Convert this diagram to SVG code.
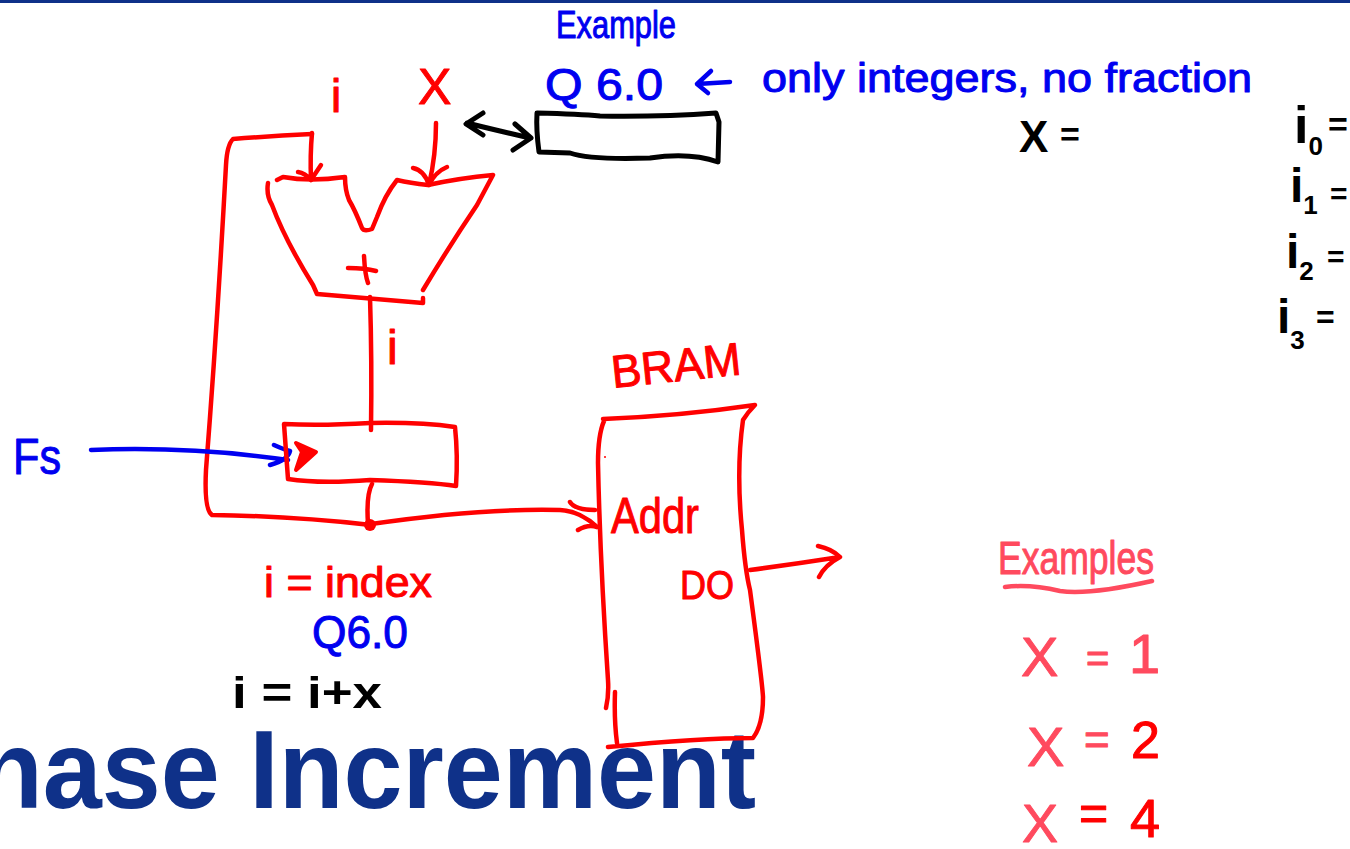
<svg xmlns="http://www.w3.org/2000/svg" width="1350" height="849" viewBox="0 0 1350 849">
<style>
.r{fill:none;stroke:#ff0000;stroke-width:4.5;stroke-linecap:round;stroke-linejoin:round}
.b{fill:none;stroke:#0000f0;stroke-width:4.5;stroke-linecap:round;stroke-linejoin:round}
.k{fill:none;stroke:#000;stroke-width:5;stroke-linecap:round;stroke-linejoin:round}
.p{fill:none;stroke:#ff4a5e;stroke-width:4.5;stroke-linecap:round;stroke-linejoin:round}
text{font-family:"Liberation Sans",Arial,sans-serif;stroke-linejoin:round}
.tr{fill:#ff0000;stroke:#ff0000;stroke-width:1}
.tb{fill:#0000f0;stroke:#0000f0;stroke-width:1}
.tk{fill:#000;font-weight:bold}
.tp{fill:#ff4a5e;stroke:#ff4a5e;stroke-width:1}
.red{fill:#ff0000;stroke:#ff0000}
</style>
<rect x="0" y="0" width="1350" height="3" fill="#0f3189"/>
<g id="title"><text x="-22" y="808" font-size="112" font-weight="bold" fill="#0f3189" textLength="778" lengthAdjust="spacingAndGlyphs">hase Increment</text></g>
<g id="connectors">
<path class="r" d="M312 133Q310 155 311 180M298 172Q305 173 311 180L321 165"/>
<path class="r" d="M436 123Q436 155 429 185M413 168Q424 170 429 185Q435 172 447 167"/>
<path class="r" d="M312 134Q270 136 233 139Q227 145 226 165Q217 330 206 470Q204 510 212 515Q290 516 371 525"/>
<path class="r" d="M370 297Q372 360 371 430"/>
<path class="r" d="M372 484Q366 495 368 524"/>
<circle cx="370" cy="525" r="6" fill="#ff0000"/>
<path class="r" d="M371 524Q480 508 560 510Q580 511 597 527M570 502Q575 510 595 510M578 530Q588 524 597 527"/>
<path class="r" d="M750 570Q795 564 840 557M818 546Q832 549 840 557Q825 565 819 577"/>
<path class="b" d="M91 450Q190 446 288 460M274 445Q285 450 290 451Q288 460 270 465"/>
<path class="k" d="M467 123Q495 130 530 138M483 113L466 124L483 135M515 124L531 138L513 150"/>
<path class="b" d="M697 84L730 82M711 71L697 84L708 93"/>
<path class="p" d="M1005 587Q1030 584 1060 591Q1090 595 1152 581"/>
</g>
<g id="adder">
<path class="r" d="M268 183Q266 195 272 205Q285 240 313 285L317 294L423 303L423 298M423 290Q450 245 477 205L493 175Q460 178 428 185Q410 183 397 180Q385 195 377 217L372 229Q364 232 362 228Q355 210 349 200Q345 190 345 177Q310 182 283 177L277 180"/>
<path class="r" d="M348 268Q365 268 376 271M364 256Q365 275 368 283"/>
</g>
<g id="register">
<path class="r" d="M284 424Q320 426 370 423Q420 422 455 427Q458 455 456 486Q430 482 370 480Q320 484 288 479Q286 450 284 424Z"/>
<path d="M296 443L316 452L296 470L302 452Z" fill="#ff0000" stroke="#ff0000" stroke-width="4" stroke-linejoin="round"/>
</g>
<g id="bram">
<path class="r" d="M603 419Q680 416 755 405Q748 412 743 420Q736 470 742 530Q745 570 750 590Q762 680 763 697Q763 725 753 738Q700 738 608 747M617 743Q614 720 615 692M606 708Q609 695 608 680Q600 560 598 463Q598 435 604 421"/>
<circle cx="605" cy="457" r="1" fill="#ff0000"/>
</g>
<g id="q-register">
<path class="k" d="M537 113Q580 114 600 116Q660 117 716 113L719 122L718 162Q690 152 650 158Q590 160 570 153L539 152Q536 130 537 113Z"/>
</g>
<g id="labels">
<text class="tr" x="331" y="112" font-size="46">i</text>
<text class="tr" x="418" y="104" font-size="50">X</text>
<text class="tr" x="387" y="364" font-size="48">i</text>
<text class="tb" x="556" y="38" font-size="38" textLength="120" lengthAdjust="spacingAndGlyphs">Example</text>
<text class="tb" x="545" y="100" font-size="44" textLength="118" lengthAdjust="spacingAndGlyphs">Q 6.0</text>
<text class="tb" x="762" y="92" font-size="40" textLength="490" lengthAdjust="spacingAndGlyphs">only integers, no fraction</text>
<text class="tk" x="1019" y="152" font-size="44">X<tspan x="1060" y="146" font-size="34">=</tspan></text>
<text class="tk" x="1294" y="143" font-size="52">i<tspan font-size="26" y="155">0</tspan><tspan x="1328" y="136" font-size="34">=</tspan></text>
<text class="tk" x="1290" y="202" font-size="48">i<tspan font-size="26" y="214">1</tspan><tspan x="1330" y="204" font-size="30">=</tspan></text>
<text class="tk" x="1286" y="268" font-size="48">i<tspan font-size="26" y="280">2</tspan><tspan x="1327" y="267" font-size="30">=</tspan></text>
<text class="tk" x="1277" y="333" font-size="48">i<tspan font-size="26" y="349">3</tspan><tspan x="1316" y="328" font-size="32">=</tspan></text>
<text class="tb" x="13" y="474" font-size="50" textLength="48" lengthAdjust="spacingAndGlyphs">Fs</text>
<text class="tr" x="613" y="388" font-size="46" textLength="130" lengthAdjust="spacingAndGlyphs" transform="rotate(-6 613 388)">BRAM</text>
<text class="tr" x="611" y="533" font-size="50" textLength="88" lengthAdjust="spacingAndGlyphs">Addr</text>
<text class="tr" x="680" y="599" font-size="40" textLength="54" lengthAdjust="spacingAndGlyphs">DO</text>
<text class="tr" x="264" y="597" font-size="42" textLength="168" lengthAdjust="spacingAndGlyphs">i = index</text>
<text class="tb" x="312" y="648" font-size="46" textLength="96" lengthAdjust="spacingAndGlyphs">Q6.0</text>
<text class="tk" x="232" y="708" font-size="44" textLength="150" lengthAdjust="spacingAndGlyphs">i = i+x</text>
<text class="tp" x="998" y="574" font-size="46" textLength="156" lengthAdjust="spacingAndGlyphs">Examples</text>
<text class="tp" x="1021" y="676" font-size="56">X<tspan x="1086" y="672" font-size="40">=</tspan><tspan x="1129" y="673" font-size="56">1</tspan></text>
<text class="tp" x="1027" y="766" font-size="56">X<tspan x="1084" y="755" font-size="44">=</tspan><tspan class="red" x="1131" y="758" font-size="52">2</tspan></text>
<text class="tp" x="1022" y="842" font-size="54">X<tspan class="red" x="1079" y="830" font-size="50">=</tspan><tspan class="red" x="1130" y="837" font-size="54">4</tspan></text>
</g>
</svg>
